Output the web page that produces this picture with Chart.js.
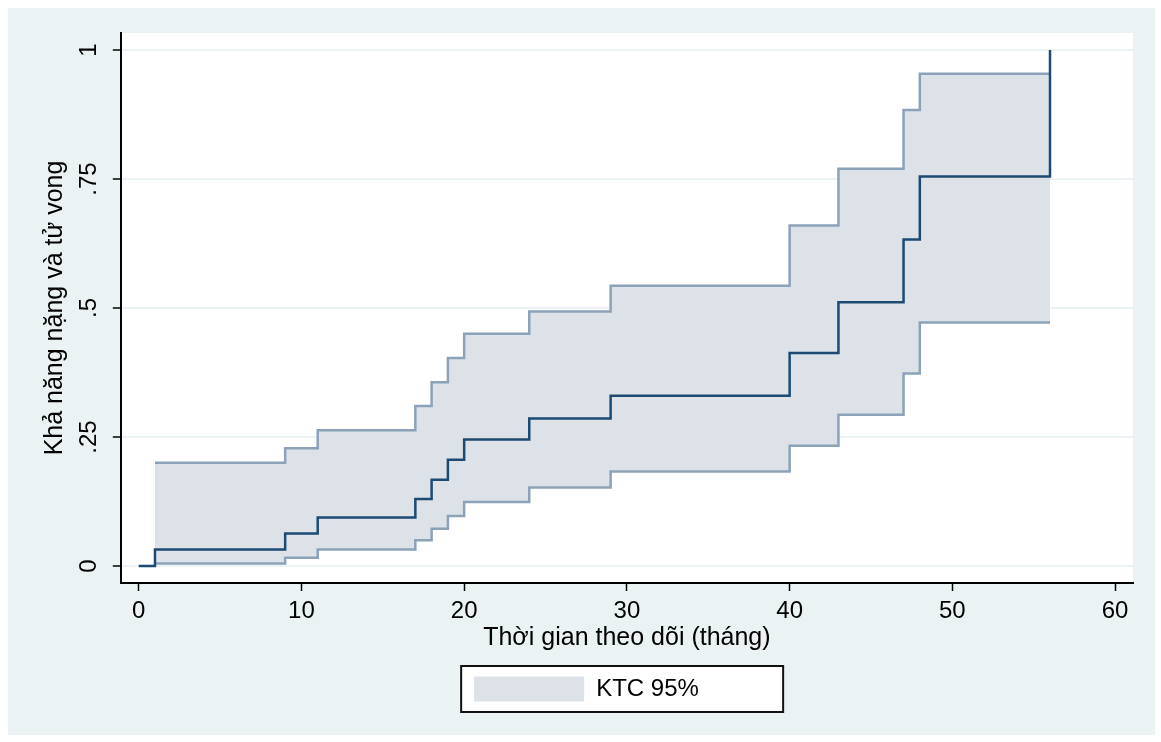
<!DOCTYPE html>
<html>
<head>
<meta charset="utf-8">
<script src="https://cdn.jsdelivr.net/npm/chart.js@4"></script>
<style>
  html, body { margin: 0; padding: 0; background: #fff; }
  #wrap { width: 1161px; height: 742px; }
</style>
</head>
<body>
<div id="wrap"><canvas id="km"></canvas></div>
<script>
// KM failure estimate and 95% CI
const times = [0, 1, 9, 11, 17, 18, 19, 20, 24, 29, 40, 43, 47, 48, 56];
const failure = [0, 0.032, 0.063, 0.094, 0.13, 0.167, 0.206, 0.245, 0.286, 0.33, 0.413, 0.511, 0.633, 0.755, 1.0];
const ciTimes = [1, 9, 11, 17, 18, 19, 20, 24, 29, 40, 43, 47, 48, 56];
const upperCI = [0.2, 0.228, 0.263, 0.31, 0.356, 0.403, 0.45, 0.493, 0.543, 0.66, 0.77, 0.884, 0.954, 0.954];
const lowerCI = [0.005, 0.016, 0.032, 0.05, 0.072, 0.097, 0.124, 0.152, 0.183, 0.233, 0.293, 0.373, 0.472, 0.472];
const xTicks = [0, 10, 20, 30, 40, 50, 60];
const yTicks = [0, 0.25, 0.5, 0.75, 1];

const FONT = 'Liberation Sans, Arial, sans-serif';
const toPts = (xs, ys) => xs.map((x, i) => ({ x: x, y: ys[i] }));

// stata style background, white plot region, framed legend
const frame = {
  id: 'frame',
  beforeDraw(chart) {
    const ctx = chart.ctx, a = chart.chartArea;
    ctx.save();
    ctx.fillStyle = '#ffffff';
    ctx.fillRect(0, 0, chart.width, chart.height);
    ctx.fillStyle = '#eaf2f3';
    ctx.fillRect(8, 8, chart.width - 14, chart.height - 15);
    ctx.fillStyle = '#ffffff';
    ctx.fillRect(a.left, a.top, a.right - a.left, a.bottom - a.top);
    const lg = chart.legend;
    if (lg && lg.legendHitBoxes && lg.legendHitBoxes.length) {
      const hb = lg.legendHitBoxes[0];
      const yc = hb.top + hb.height / 2;
      ctx.fillRect(hb.left - 13, yc - 23, 322, 46);
    }
    ctx.restore();
  },
  afterDraw(chart) {
    const lg = chart.legend;
    if (!lg || !lg.legendHitBoxes || !lg.legendHitBoxes.length) return;
    const hb = lg.legendHitBoxes[0];
    const yc = hb.top + hb.height / 2;
    const ctx = chart.ctx;
    ctx.save();
    ctx.strokeStyle = '#111';
    ctx.lineWidth = 2;
    ctx.strokeRect(hb.left - 13, yc - 23, 322, 46);
    ctx.restore();
  }
};

new Chart(document.getElementById('km'), {
  type: 'line',
  data: {
    datasets: [
      {
        label: 'failure',
        data: toPts(times, failure),
        stepped: true,
        borderColor: '#1c4a72',
        borderWidth: 2.5,
        pointRadius: 0,
        fill: false
      },
      {
        label: 'KTC 95%',
        data: toPts(ciTimes, upperCI),
        stepped: true,
        borderColor: '#8ca2b8',
        borderWidth: 2.5,
        backgroundColor: '#dde2e9',
        pointRadius: 0,
        fill: '+1'
      },
      {
        label: 'lower',
        data: toPts(ciTimes, lowerCI),
        stepped: true,
        borderColor: '#8ca2b8',
        borderWidth: 2.5,
        pointRadius: 0,
        fill: false
      }
    ]
  },
  options: {
    responsive: true,
    maintainAspectRatio: false,
    animation: false,
    layout: { padding: { top: 33, right: 28, bottom: 30.5, left: 40 } },
    scales: {
      x: {
        type: 'linear',
        min: -1.1,
        max: 61.1,
        afterBuildTicks: s => { s.ticks = xTicks.map(v => ({ value: v })); },
        ticks: { color: '#000', font: { family: FONT, size: 24, lineHeight: 1 }, padding: 8, maxRotation: 0 },
        grid: { drawOnChartArea: false, tickLength: 8, tickColor: '#000', tickWidth: 1.5 },
        border: { color: '#000', width: 2 },
        title: { display: true, text: 'Thời gian theo dõi (tháng)', color: '#000',
                 font: { family: FONT, size: 25, lineHeight: 1 }, padding: { top: -5, bottom: -2 } }
      },
      y: {
        type: 'linear',
        min: -0.033,
        max: 1.033,
        afterBuildTicks: s => { s.ticks = yTicks.map(v => ({ value: v })); },
        ticks: {
          color: '#000', font: { family: FONT, size: 24 }, padding: 7,
          minRotation: 90, maxRotation: 90, crossAlign: 'center',
          callback: v => (v === 0 ? '0' : v === 1 ? '1' : String(v).replace(/^0/, ''))
        },
        grid: { color: '#eaf2f3', lineWidth: 2, tickLength: 8, tickColor: '#000', tickWidth: 1.5 },
        border: { color: '#000', width: 2 },
        title: { display: true, text: 'Khả năng nặng và tử vong', color: '#000',
                 font: { family: FONT, size: 25 }, padding: { top: 0, bottom: 0 } }
      }
    },
    plugins: {
      filler: { drawTime: 'beforeDatasetsDraw' },
      tooltip: { enabled: false },
      legend: {
        position: 'bottom',
        labels: {
          color: '#000',
          font: { family: FONT, size: 24 },
          boxWidth: 110,
          boxHeight: 25,
          padding: 27.5,
          generateLabels: () => [{
            text: 'KTC 95%', fillStyle: '#dde2e9', strokeStyle: 'rgba(0,0,0,0)',
            lineWidth: 0, hidden: false, datasetIndex: 1, fontColor: '#000'
          }]
        }
      }
    }
  },
  plugins: [frame]
});
</script>
</body>
</html>
